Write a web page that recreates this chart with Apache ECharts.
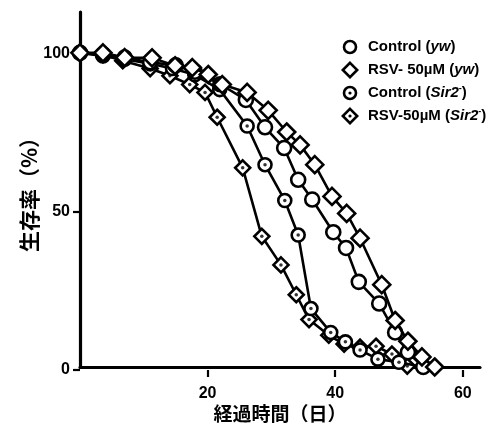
<!DOCTYPE html>
<html><head><meta charset="utf-8">
<script src="https://cdn.jsdelivr.net/npm/echarts@6/dist/echarts.min.js"></script>
<style>html,body{margin:0;padding:0;background:#fff}#c{width:494px;height:428px}</style>
</head><body><div id="c"></div>
<script>
// ---- data ----
const seriesNames = ['Control (yw)', 'RSV- 50µM (yw)', 'Control (Sir2)', 'RSV-50µM (Sir2)'];
const xTickValues = [20, 40, 60];
const yTickValues = [0, 50, 100];

const ctrlYwDays = [0, 3.6, 7, 11, 15, 18, 22, 26, 29, 32, 34.2, 36.4, 39.7, 41.7, 43.7, 46.9, 49.4, 51.4, 53.8];
const ctrlYwVals = [100, 99.5, 98.5, 97, 96, 94, 90, 85, 76.3, 69.7, 59.6, 53.3, 42.9, 37.9, 27.1, 20.2, 11, 4.7, 0];

const rsvYwDays = [0, 3.6, 7, 11.3, 14.9, 17.6, 20.1, 22.3, 26.2, 29.5, 32.4, 34.5, 36.8, 39.5, 41.8, 43.9, 47.3, 49.4, 51.4, 53.6, 55.6];
const rsvYwVals = [100, 100, 98.5, 98.4, 95.9, 95.3, 93.1, 89.9, 87.4, 81.7, 74.8, 70.7, 64.4, 54.3, 48.9, 41, 26.2, 14.8, 8.2, 3.2, 0];

const ctrlSirDays = [0, 3.6, 7, 11, 14.5, 18, 21.9, 26.2, 29, 32.1, 34.2, 36.2, 39.3, 41.6, 43.9, 46.7, 50, 53.8];
const ctrlSirVals = [100, 99, 98, 96.5, 95, 93, 88.3, 76.7, 64.4, 53, 42, 18.6, 11, 8, 5.4, 2.5, 1.5, 0];

const rsvSirDays = [0, 3.6, 6.7, 11, 14.1, 17.2, 19.6, 21.5, 25.5, 28.5, 31.5, 33.9, 35.9, 39, 41.4, 43.9, 46.4, 48.9, 51.3];
const rsvSirVals = [100, 99.4, 97.5, 95, 92.7, 89.9, 87.4, 79.5, 63.4, 41.6, 32.5, 23, 15.1, 10.1, 7.3, 6.3, 6.6, 4.1, 0.3];

// ---- layout ----
const W = 494, H = 428;
const plotL = 80, plotR = 480, plotT = 12, plotB = 370;
const xMax = 62.7, yMax = 113;
const pxPerDay = (plotR - plotL) / xMax;
const pxPerPct = (plotB - plotT) / yMax;

// ---- build ----
function pairs(d, v) { return d.map((x, i) => [x, v[i]]); }
function svgIcon(shape, dot) {
  let s = '<svg xmlns="http://www.w3.org/2000/svg" width="18" height="18" viewBox="0 0 18 18">';
  if (shape === 'circle') s += '<circle cx="9" cy="9" r="6" fill="white" stroke="black" stroke-width="2.6"/>';
  else s += '<polygon points="9,1.8 16.2,9 9,16.2 1.8,9" fill="white" stroke="black" stroke-width="2.6" stroke-linejoin="miter"/>';
  if (dot) s += '<circle cx="9" cy="9" r="1.6" fill="black"/>';
  s += '</svg>';
  return 'image://data:image/svg+xml;charset=utf-8,' + encodeURIComponent(s);
}
const lineStyle = { color: '#000', width: 2.6 };
const itemStyle = { color: '#fff', borderColor: '#000', borderWidth: 2.6 };
function mainSeries(name, d, v, sym, size, z) {
  return { name, type: 'line', data: pairs(d, v), symbol: sym, symbolSize: size, showAllSymbol: true,
    lineStyle, itemStyle, z, animation: false };
}
function dotSeries(d, v, z) {
  return { type: 'scatter', data: pairs(d, v), symbol: 'circle', symbolSize: 3.5, silent: true,
    itemStyle: { color: '#000' }, z, animation: false, tooltip: { show: false } };
}
const fontLat = 'Liberation Sans, Arial, sans-serif';
const fontCJK = '"Noto Sans CJK JP", sans-serif';
const labelStyle = { fontFamily: fontLat, fontWeight: 'bold', fontSize: 16, color: '#000' };
const tickStyle = { show: true, length: 7, lineStyle: { color: '#000', width: 2.2 } };

const legendLabels = {
  'Control (yw)': 'Control ({i|yw})',
  'RSV- 50µM (yw)': 'RSV- 50µM ({i|yw})',
  'Control (Sir2)': 'Control ({i|Sir2}{s|-})',
  'RSV-50µM (Sir2)': 'RSV-50µM ({i|Sir2}{s|-})'
};

const xt0 = xTickValues[0], xt1 = xTickValues[xTickValues.length - 1];
const yt0 = yTickValues[0], yt1 = yTickValues[yTickValues.length - 1];

const chart = echarts.init(document.getElementById('c'), null, { renderer: 'canvas' });
chart.setOption({
  backgroundColor: '#fff',
  animation: false,
  grid: [
    { left: plotL, right: W - plotR, top: plotT, bottom: H - plotB },
    { left: plotL + xt0 * pxPerDay, width: (xt1 - xt0) * pxPerDay, top: plotT, bottom: H - plotB },
    { left: plotL, width: 20, top: plotB - yt1 * pxPerPct, height: (yt1 - yt0) * pxPerPct }
  ],
  legend: {
    orient: 'vertical', left: 336, top: 33, itemWidth: 18, itemHeight: 18, itemGap: 5,
    data: [
      { name: seriesNames[0], icon: svgIcon('circle', false) },
      { name: seriesNames[1], icon: svgIcon('diamond', false) },
      { name: seriesNames[2], icon: svgIcon('circle', true) },
      { name: seriesNames[3], icon: svgIcon('diamond', true) }
    ],
    formatter: n => legendLabels[n],
    textStyle: { fontFamily: fontLat, fontWeight: 'bold', fontSize: 15, color: '#000', padding: [0, 0, 0, 4],
      rich: {
        i: { fontFamily: fontLat, fontWeight: 'bold', fontStyle: 'italic', fontSize: 15, color: '#000' },
        s: { fontFamily: fontLat, fontWeight: 'bold', fontSize: 9, color: '#000', padding: [0, 0, 8, 0] }
      } }
  },
  xAxis: [
    { gridIndex: 0, type: 'value', min: 0, max: xMax,
      name: '経過時間（日）', nameLocation: 'middle', nameGap: 37,
      nameTextStyle: { fontFamily: fontCJK, fontWeight: 'bold', fontSize: 19, color: '#000' },
      axisLine: { show: true, lineStyle: { color: '#000', width: 3.2 } },
      axisTick: { show: false }, axisLabel: { show: false }, splitLine: { show: false } },
    { gridIndex: 1, type: 'value', min: xt0, max: xt1, interval: 20,
      axisLine: { show: false }, axisTick: tickStyle,
      axisLabel: Object.assign({ margin: 16 }, labelStyle), splitLine: { show: false } },
    { gridIndex: 2, type: 'value', show: false }
  ],
  yAxis: [
    { gridIndex: 0, type: 'value', min: 0, max: yMax,
      name: '生存率（%）', nameLocation: 'middle', nameGap: 40, nameRotate: 90,
      nameTextStyle: { fontFamily: fontCJK, fontWeight: 'bold', fontSize: 21, color: '#000' },
      axisLine: { show: true, lineStyle: { color: '#000', width: 3.2 } },
      axisTick: { show: false }, axisLabel: { show: false }, splitLine: { show: false } },
    { gridIndex: 1, type: 'value', show: false },
    { gridIndex: 2, type: 'value', min: yt0, max: yt1, interval: 50,
      axisLine: { show: false }, axisTick: tickStyle,
      axisLabel: Object.assign({ margin: 10 }, labelStyle), splitLine: { show: false } }
  ],
  series: [
    mainSeries(seriesNames[3], rsvSirDays, rsvSirVals, 'diamond', 15, 2),
    dotSeries(rsvSirDays, rsvSirVals, 3),
    mainSeries(seriesNames[2], ctrlSirDays, ctrlSirVals, 'circle', 13, 4),
    dotSeries(ctrlSirDays, ctrlSirVals, 5),
    mainSeries(seriesNames[0], ctrlYwDays, ctrlYwVals, 'circle', 14, 6),
    mainSeries(seriesNames[1], rsvYwDays, rsvYwVals, 'diamond', 17, 7)
  ]
});
</script></body></html>
